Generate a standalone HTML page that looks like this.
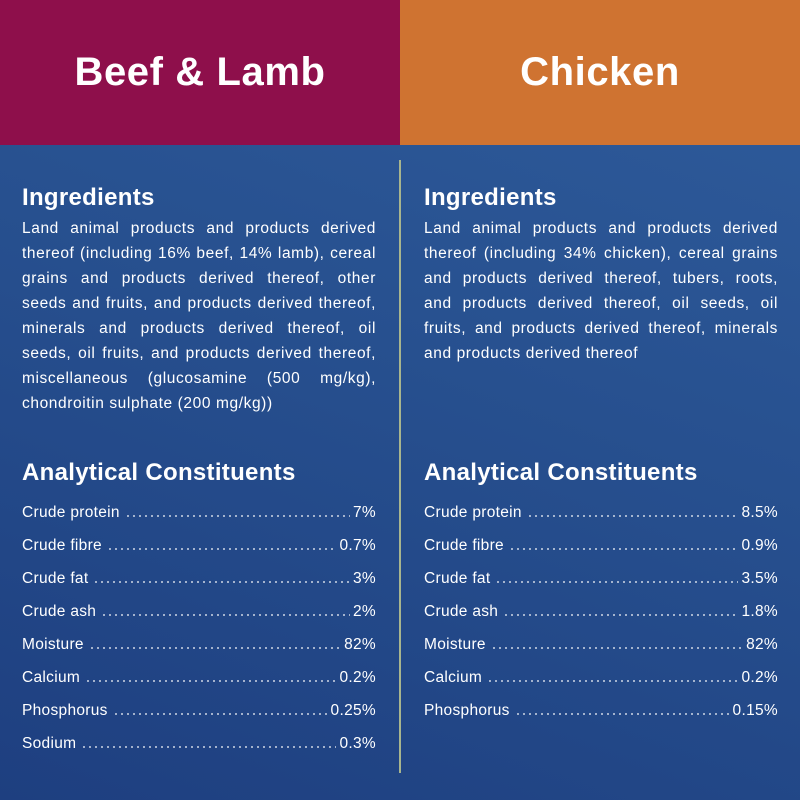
<!DOCTYPE html>
<html><head><meta charset="utf-8"><style>
*{margin:0;padding:0;box-sizing:border-box}
body{width:800px;height:800px;overflow:hidden;font-family:"Liberation Sans",sans-serif;color:#fff;position:relative;
background:linear-gradient(200deg,#2f5c9c 0%,#27508f 45%,#1e3f80 100%)}
.hdr{position:absolute;top:0;height:145px;width:400px;display:flex;align-items:center;justify-content:center;font-weight:bold;font-size:40px;letter-spacing:.6px}
.h1{left:0;background:#8e0f4b}.h2{left:400px;background:#cf7331}
.div{position:absolute;left:399px;top:160px;width:2px;height:613px;background:#a8b58e}
.col{position:absolute;top:183px;width:354px}
.c1{left:22px}.c2{left:424px}
h2{font-size:24px;font-weight:bold;line-height:30px;letter-spacing:.3px}
.p{font-size:15.5px;line-height:25px;margin-top:3px;letter-spacing:.6px}
.p div{text-align:justify;text-align-last:justify;white-space:nowrap}
.p div.l{text-align-last:left}
.an{position:absolute;top:458px;width:354px}
.rows{margin-top:8px}
.row{display:flex;align-items:baseline;font-size:15.5px;height:33px;line-height:33px;letter-spacing:.3px}
.row .d{flex:1;height:2px;margin:0 3px 0 5px;background:radial-gradient(circle,rgba(255,255,255,.7) 0.8px,transparent 1.2px) 0 0/6px 2px repeat-x}
</style></head><body>
<div class="hdr h1">Beef &amp; Lamb</div>
<div class="hdr h2">Chicken</div>
<div class="div"></div>
<div class="col c1"><h2>Ingredients</h2><div class="p">
<div>Land animal products and products derived</div>
<div>thereof (including 16% beef, 14% lamb), cereal</div>
<div>grains and products derived thereof, other</div>
<div>seeds and fruits, and products derived thereof,</div>
<div>minerals and products derived thereof, oil</div>
<div>seeds, oil fruits, and products derived thereof,</div>
<div>miscellaneous (glucosamine (500 mg/kg),</div>
<div class="l">chondroitin sulphate (200 mg/kg))</div>
</div></div>
<div class="col c2"><h2>Ingredients</h2><div class="p">
<div>Land animal products and products derived</div>
<div>thereof (including 34% chicken), cereal grains</div>
<div>and products derived thereof, tubers, roots,</div>
<div>and products derived thereof, oil seeds, oil</div>
<div>fruits, and products derived thereof, minerals</div>
<div class="l">and products derived thereof</div>
</div></div>
<div class="an c1"><h2>Analytical Constituents</h2><div class="rows">
<div class="row"><span>Crude protein</span><span class="d"></span><span>7%</span></div>
<div class="row"><span>Crude fibre</span><span class="d"></span><span>0.7%</span></div>
<div class="row"><span>Crude fat</span><span class="d"></span><span>3%</span></div>
<div class="row"><span>Crude ash</span><span class="d"></span><span>2%</span></div>
<div class="row"><span>Moisture</span><span class="d"></span><span>82%</span></div>
<div class="row"><span>Calcium</span><span class="d"></span><span>0.2%</span></div>
<div class="row"><span>Phosphorus</span><span class="d"></span><span>0.25%</span></div>
<div class="row"><span>Sodium</span><span class="d"></span><span>0.3%</span></div>
</div></div>
<div class="an c2"><h2>Analytical Constituents</h2><div class="rows">
<div class="row"><span>Crude protein</span><span class="d"></span><span>8.5%</span></div>
<div class="row"><span>Crude fibre</span><span class="d"></span><span>0.9%</span></div>
<div class="row"><span>Crude fat</span><span class="d"></span><span>3.5%</span></div>
<div class="row"><span>Crude ash</span><span class="d"></span><span>1.8%</span></div>
<div class="row"><span>Moisture</span><span class="d"></span><span>82%</span></div>
<div class="row"><span>Calcium</span><span class="d"></span><span>0.2%</span></div>
<div class="row"><span>Phosphorus</span><span class="d"></span><span>0.15%</span></div>
</div></div>
</body></html>
